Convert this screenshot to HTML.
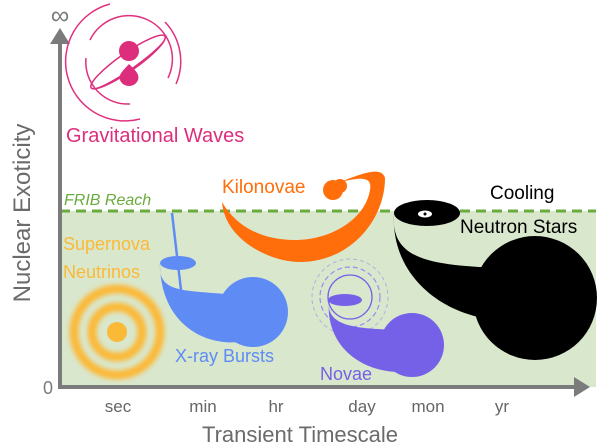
<!DOCTYPE html>
<html><head><style>body{margin:0;background:#fff}svg{display:block}text{font-family:"Liberation Sans",sans-serif}</style></head><body>
<svg width="600" height="448" viewBox="0 0 600 448" xmlns="http://www.w3.org/2000/svg">
<defs><filter id="b"><feGaussianBlur stdDeviation="2.5"/></filter></defs>
<rect x="60" y="211" width="536" height="176" fill="#d9e7cd"/>
<line x1="60" y1="211" x2="596" y2="211" stroke="#6aab3e" stroke-width="3" stroke-dasharray="10,6"/>
<!-- axes -->
<line x1="60" y1="388" x2="60" y2="40" stroke="#7b7b7b" stroke-width="4"/>
<path d="M50,44 L60,28 L70,44 Z" fill="#7b7b7b"/>
<line x1="58" y1="387" x2="578" y2="387" stroke="#7b7b7b" stroke-width="4"/>
<path d="M574,377 L590,387 L574,397 Z" fill="#7b7b7b"/>
<text x="60" y="24" font-size="26" fill="#7b7b7b" text-anchor="middle">∞</text>
<text x="48" y="394" font-size="18" fill="#7b7b7b" text-anchor="middle">0</text>
<g font-size="17" fill="#666" text-anchor="middle">
<text x="118" y="412">sec</text><text x="203" y="412">min</text><text x="276" y="412">hr</text><text x="362" y="412">day</text><text x="428" y="412">mon</text><text x="502" y="412">yr</text></g>
<text x="300" y="442" font-size="22" fill="#6b6b6b" text-anchor="middle">Transient Timescale</text>
<text transform="translate(30,213) rotate(-90)" font-size="24" fill="#6b6b6b" text-anchor="middle">Nuclear Exoticity</text>
<!-- GW -->
<g stroke="#e0307e" fill="none" stroke-width="1.5">
<path d="M110,4 A57,57 0 0 0 140,119"/>
<path d="M165,22 A57,57 0 0 1 176,84"/>
<path d="M90,40 A42,42 0 0 1 168,78"/>
<path d="M86,58 A42,42 0 0 0 130,104"/>
</g>
<g transform="rotate(-35 128 62)">
<ellipse cx="128" cy="62" rx="45" ry="9" fill="none" stroke="#dc2e7c" stroke-width="1.5"/>
<path d="M83,62 A45,9 0 0 0 173,62 A45,7 0 0 1 83,62Z" fill="#dc2e7c"/>
</g>
<circle cx="129" cy="51" r="10" fill="#dc2e7c"/>
<path d="M129,64 C135,70 140,74 138,80 C135,88 123,88 120,80 C118,74 124,70 129,64Z" fill="#dc2e7c"/>
<text x="66" y="142" font-size="20" fill="#dc2e7c">Gravitational Waves</text>
<text x="64" y="205" font-size="16" font-style="italic" fill="#6aab3e">FRIB Reach</text>
<!-- supernova -->
<g filter="url(#b)"><circle cx="117" cy="332" r="43" fill="none" stroke="#fbb938" stroke-width="9"/>
<circle cx="117" cy="332" r="25" fill="none" stroke="#fbb938" stroke-width="9"/></g>
<circle cx="117" cy="332" r="10" fill="#fbb938"/>
<text x="63" y="250" font-size="18" fill="#fbb938">Supernova</text>
<text x="63" y="278" font-size="18" fill="#fbb938">Neutrinos</text>
<!-- X-ray -->
<line x1="172" y1="213" x2="181" y2="290" stroke="#5f8cf4" stroke-width="2.5"/>
<ellipse cx="178" cy="263" rx="18" ry="7" fill="#5f8cf4"/>
<path d="M160,263 C158,292 180,290 225,294 L240,342 C200,346 160,320 160,263Z" fill="#5f8cf4"/>
<circle cx="253" cy="312" r="35" fill="#5f8cf4"/>
<text x="175" y="362" font-size="18" fill="#5f8cf4">X-ray Bursts</text>
<!-- Kilonova -->
<path d="M222,202 C225,240 270,262 300,262 C350,262 385,220 385,178 C382,168 370,170 340,182 C365,176 372,178 370,190 C365,220 330,240 295,240 C260,240 235,225 222,202Z" fill="#ff6e0a"/>
<circle cx="333" cy="190" r="10" fill="#ff6e0a"/><circle cx="340" cy="186" r="7" fill="#ff6e0a"/>
<text x="222" y="193" font-size="19" fill="#ff6e0a">Kilonovae</text>
<!-- Novae -->
<g fill="none" stroke="#9a8cf0"><circle cx="350" cy="297" r="38" stroke-dasharray="4,3" stroke-width="1" opacity=".6"/>
<circle cx="350" cy="297" r="30" stroke-dasharray="5,3" stroke-width="1.2"/>
<circle cx="350" cy="297" r="22" stroke="#7561e8" stroke-width="1.3"/></g>
<ellipse cx="345" cy="300" rx="17" ry="6" fill="#7561e8"/>
<path d="M329,300 C325,328 360,328 395,330 L400,372 C360,372 325,345 329,300Z" fill="#7561e8"/>
<circle cx="412" cy="345" r="32" fill="#7561e8"/>
<text x="320" y="380" font-size="18" fill="#7561e8">Novae</text>
<!-- Neutron stars -->
<ellipse cx="427" cy="213" rx="33" ry="13" fill="#000"/>
<ellipse cx="425" cy="214" rx="7" ry="3.5" fill="#fff"/><circle cx="425" cy="214" r="1.5" fill="#000"/>
<path d="M394,213 C390,260 430,265 500,268 L505,320 C450,320 390,280 394,213Z" fill="#000"/>
<circle cx="535" cy="298" r="62" fill="#000"/>
<text x="490" y="199" font-size="19" fill="#000">Cooling</text>
<text x="460" y="233" font-size="19" fill="#000">Neutron Stars</text>
</svg>
</body></html>
